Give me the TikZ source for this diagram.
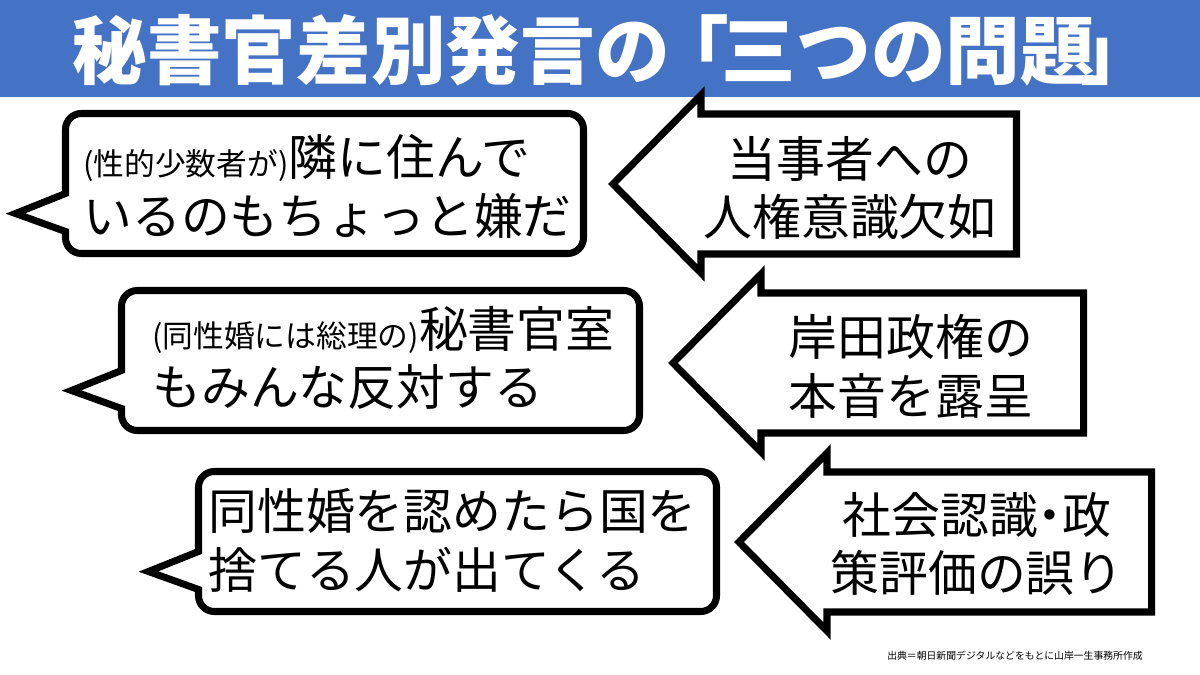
\documentclass[tikz,border=0pt]{standalone}
\usepackage{fontspec}
\setmainfont{Noto Sans CJK JP}
\definecolor{TitleBlue}{HTML}{4472C4}
\definecolor{InkA}{HTML}{000000}
\tikzset{
  outline/.style={draw=InkA, fill=white, line width=4pt, line join=miter},
  bubtxt/.style={anchor=west, align=left, inner sep=0pt,
                 font=\fontsize{27.8pt}{33.5pt}\selectfont},
  arrtxt/.style={align=center, inner sep=0pt,
                 font=\fontsize{27.8pt}{33.5pt}\selectfont},
  ttl/.style={anchor=west, inner sep=0pt, text=white,
              font=\bfseries\fontsize{42.5pt}{42.5pt}\selectfont},
  src/.style={inner sep=0pt, font=\fontsize{5.6pt}{5.6pt}\selectfont},
}
% speech bubble: top-left corner (#1,#2), tail to the left
\newcommand{\bubble}[2]{%
  \draw[outline] ({#1+259},#2) [rounded corners=9pt] -- ({#1+518},#2)
    -- ({#1+518},{#2+140}) -- (#1,{#2+140}) [sharp corners] -- (#1,{#2+118})
    -- ({#1-50},{#2+100}) -- (#1,{#2+80}) [rounded corners=9pt] -- (#1,#2) -- cycle;}
% block arrow pointing left: tip (#1,#2), right end #3
\newcommand{\pointer}[3]{%
  \draw[outline] (#1,#2) -- ({#1+88},{#2-89}) -- ({#1+88},{#2-70}) -- (#3,{#2-70})
    -- (#3,{#2+70}) -- ({#1+88},{#2+70}) -- ({#1+88},{#2+89}) -- cycle;}
\newcommand{\aside}[1]{{\fontsize{17.5pt}{17.5pt}\selectfont #1}}
\newcommand{\halfdot}{\kern-0.25em・\kern-0.25em}

\begin{document}
\begin{tikzpicture}[x=0.02cm, y=-0.02cm]
  \useasboundingbox (0,0) rectangle (1200,675);
  \fill[white] (0,0) rectangle (1200,675);
  \fill[TitleBlue] (0,0) rectangle (1200,97);
  \node[ttl] (title) at (72,50) {秘書官差別発言の\kern-0.2em「\kern-0.1em三つの問題\kern-0.2em」};

  \bubble{65.5}{113.5}
  \bubble{121.5}{290.5}
  \bubble{198.5}{471.5}
  \pointer{613}{184}{1016.5}
  \pointer{673}{363}{1083.5}
  \pointer{739}{542}{1151.5}

  \node[bubtxt] (sayA) at (83,186)  {\aside{(性的少数者が)}隣に住んで\\いるのもちょっと嫌だ};
  \node[bubtxt] (sayB) at (152,358) {\aside{(同性婚には総理の)}秘書官室\\もみんな反対する};
  \node[bubtxt] (sayC) at (208,540) {同性婚を認めたら国を\\捨てる人が出てくる};

  \node[arrtxt] (whyA) at (850,188) {当事者への\\人権意識欠如};
  \node[arrtxt] (whyB) at (911,366) {岸田政権の\\本音を露呈};
  \node[arrtxt] (whyC) at (977,544) {社会認識\halfdot 政\\策評価の誤り};

  \node[src] (source) at (1015,656) {出典＝朝日新聞デジタルなどをもとに山岸一生事務所作成};
\end{tikzpicture}
\end{document}
